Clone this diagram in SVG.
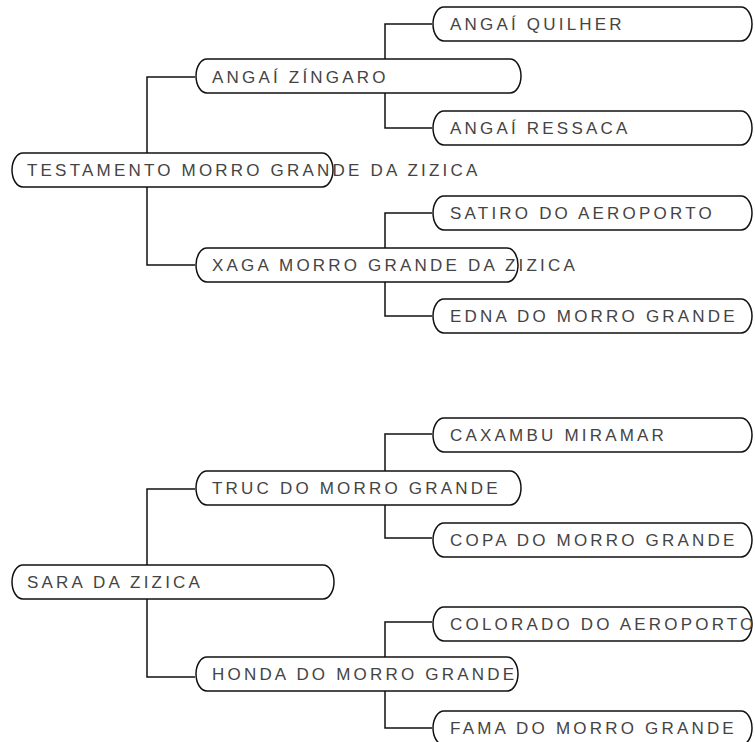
<svg xmlns="http://www.w3.org/2000/svg" width="755" height="742" viewBox="0 0 755 742">
<style>
.box{fill:#ffffff;stroke:#111111;stroke-width:1.5}
.lbl{font-family:"Liberation Sans",Arial,sans-serif;font-size:17px;letter-spacing:3.2px;fill:#444444}
.conn{fill:none;stroke:#111111;stroke-width:1.5}
</style>
<rect width="755" height="742" fill="#ffffff"/>
<g id="connectors">
<path class="conn" d="M195,77 H147 V153 M147,187 V265 H195"/>
<path class="conn" d="M432,24 H385 V59 M385,93 V128 H432"/>
<path class="conn" d="M432,213 H385 V248 M385,281 V316 H432"/>
<path class="conn" d="M195,489 H147 V565 M147,599 V677 H195"/>
<path class="conn" d="M432,434 H385 V471 M385,505 V538 H432"/>
<path class="conn" d="M432,622 H385 V657 M385,691 V728 H432"/>
</g>
<g id="n-testamento">
<path class="box" d="M23,153 H322 A11 17 0 0 1 322,187 H23 A11 17 0 0 1 23,153 Z"/>
<text class="lbl" x="27" y="176">TESTAMENTO MORRO GRANDE DA ZIZICA</text>
</g>
<g id="n-zingaro">
<path class="box" d="M207,59 H510 A11 17 0 0 1 510,93 H207 A11 17 0 0 1 207,59 Z"/>
<text class="lbl" x="212" y="83">ANGAÍ ZÍNGARO</text>
</g>
<g id="n-xaga">
<path class="box" d="M207,248 H507 A11 17 0 0 1 507,282 H207 A11 17 0 0 1 207,248 Z"/>
<text class="lbl" x="212" y="271">XAGA MORRO GRANDE DA ZIZICA</text>
</g>
<g id="n-quilher">
<path class="box" d="M444,7 H741 A11 17 0 0 1 741,41 H444 A11 17 0 0 1 444,7 Z"/>
<text class="lbl" x="450" y="30">ANGAÍ QUILHER</text>
</g>
<g id="n-ressaca">
<path class="box" d="M444,111 H741 A11 17 0 0 1 741,145 H444 A11 17 0 0 1 444,111 Z"/>
<text class="lbl" x="450" y="134">ANGAÍ RESSACA</text>
</g>
<g id="n-satiro">
<path class="box" d="M444,196 H741 A11 17 0 0 1 741,230 H444 A11 17 0 0 1 444,196 Z"/>
<text class="lbl" x="450" y="219">SATIRO DO AEROPORTO</text>
</g>
<g id="n-edna">
<path class="box" d="M444,299 H741 A11 17 0 0 1 741,333 H444 A11 17 0 0 1 444,299 Z"/>
<text class="lbl" x="450" y="322">EDNA DO MORRO GRANDE</text>
</g>
<g id="n-sara">
<path class="box" d="M23,565 H323 A11 17 0 0 1 323,599 H23 A11 17 0 0 1 23,565 Z"/>
<text class="lbl" x="27" y="588">SARA DA ZIZICA</text>
</g>
<g id="n-truc">
<path class="box" d="M207,471 H510 A11 17 0 0 1 510,505 H207 A11 17 0 0 1 207,471 Z"/>
<text class="lbl" x="212" y="494">TRUC DO MORRO GRANDE</text>
</g>
<g id="n-honda">
<path class="box" d="M207,657 H507 A11 17 0 0 1 507,691 H207 A11 17 0 0 1 207,657 Z"/>
<text class="lbl" x="212" y="680">HONDA DO MORRO GRANDE</text>
</g>
<g id="n-caxambu">
<path class="box" d="M444,418 H741 A11 17 0 0 1 741,452 H444 A11 17 0 0 1 444,418 Z"/>
<text class="lbl" x="450" y="441">CAXAMBU MIRAMAR</text>
</g>
<g id="n-copa">
<path class="box" d="M444,523 H741 A11 17 0 0 1 741,557 H444 A11 17 0 0 1 444,523 Z"/>
<text class="lbl" x="450" y="546">COPA DO MORRO GRANDE</text>
</g>
<g id="n-colorado">
<path class="box" d="M444,607 H741 A11 17 0 0 1 741,641 H444 A11 17 0 0 1 444,607 Z"/>
<text class="lbl" x="450" y="630">COLORADO DO AEROPORTO</text>
</g>
<g id="n-fama">
<path class="box" d="M444,711 H741 A11 17 0 0 1 741,745 H444 A11 17 0 0 1 444,711 Z"/>
<text class="lbl" x="450" y="734">FAMA DO MORRO GRANDE</text>
</g>
</svg>
